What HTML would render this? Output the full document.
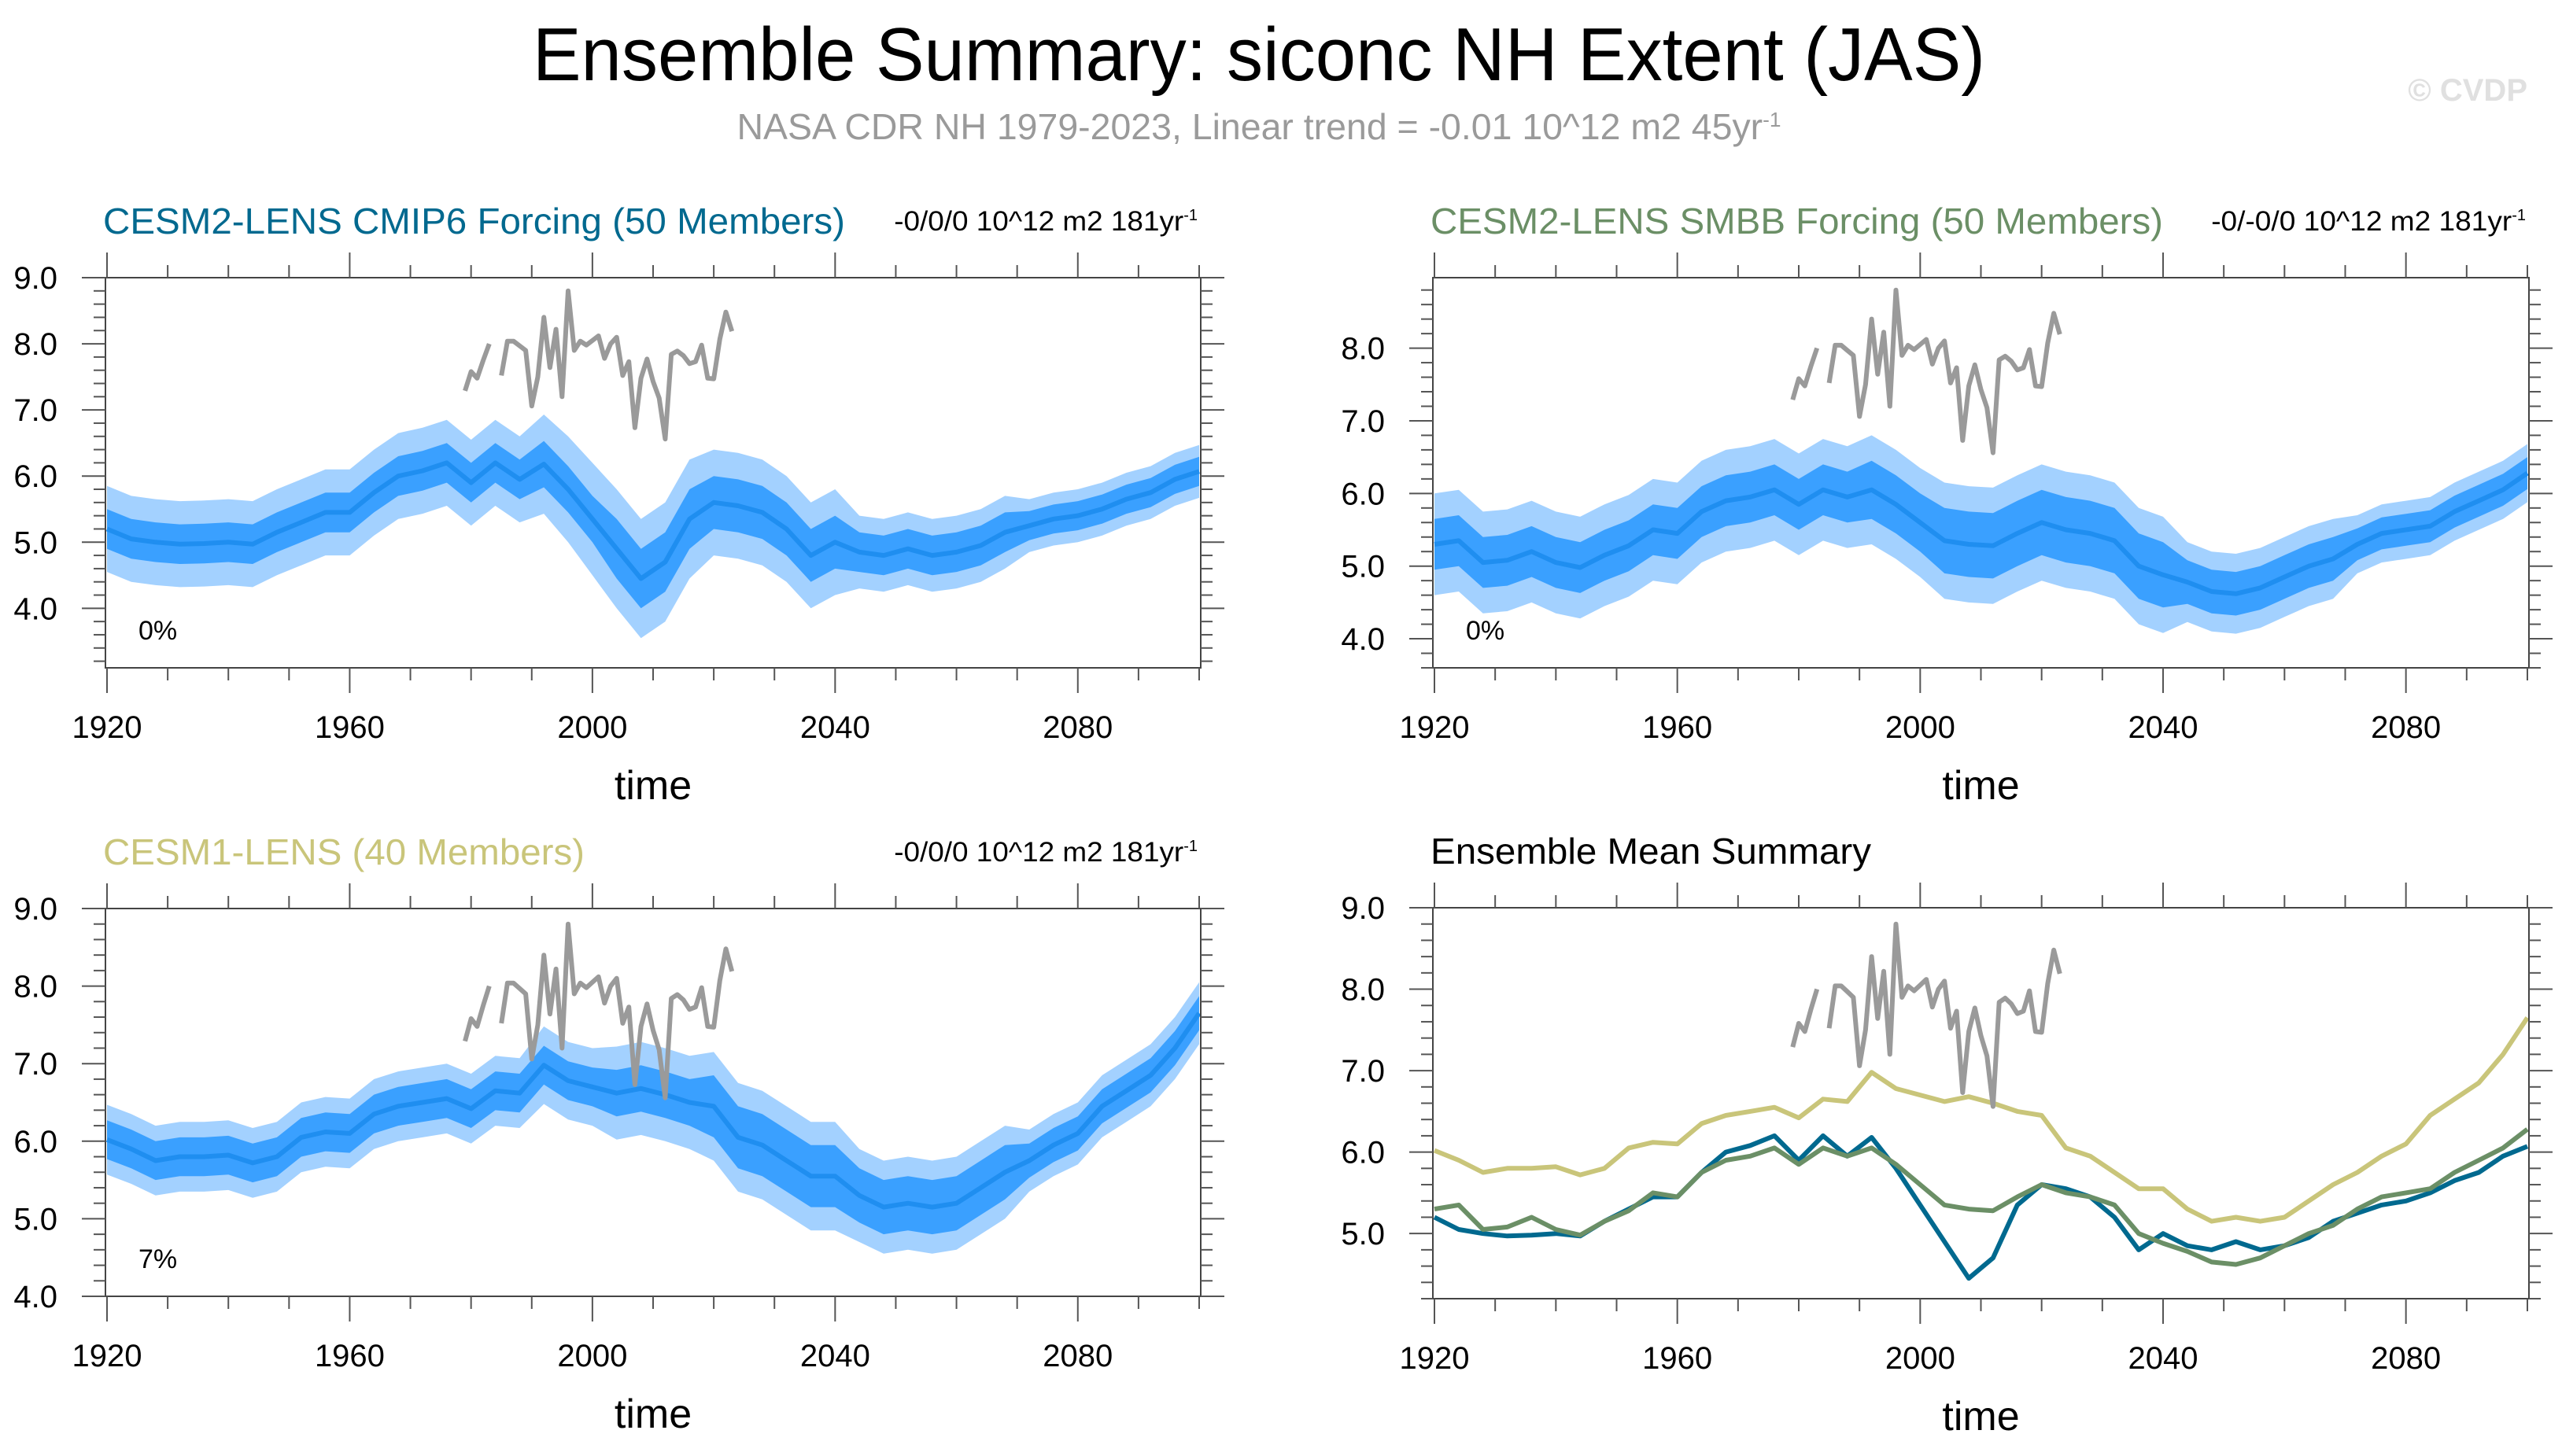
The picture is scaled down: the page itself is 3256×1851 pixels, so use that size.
<!DOCTYPE html>
<html><head><meta charset="utf-8"><style>
html,body{margin:0;padding:0;background:#fff}
svg{display:block}
text{font-family:"Liberation Sans",sans-serif}
</style></head><body>
<svg id="chart" width="3256" height="1851" viewBox="0 0 3256 1851" xmlns="http://www.w3.org/2000/svg">
<text x="1600" y="102" font-size="96" text-anchor="middle" textLength="1846" lengthAdjust="spacingAndGlyphs">Ensemble Summary: siconc NH Extent (JAS)</text>
<text x="1600" y="177" font-size="46" fill="#9a9a9a" text-anchor="middle" textLength="1327" lengthAdjust="spacingAndGlyphs">NASA CDR NH 1979-2023, Linear trend = -0.01 10^12 m2 45yr<tspan dy="-16" font-size="26">-1</tspan></text>
<text x="3212" y="128" font-size="40" font-weight="bold" fill="#e0e0e0" text-anchor="end">© CVDP</text>
<g id="panels"></g>
</svg>
<script>
const years = [1920,1924,1928,1932,1936,1940,1944,1948,1952,1956,1960,1964,1968,1972,1976,1980,1984,1988,1992,1996,2000,2004,2008,2012,2016,2020,2024,2028,2032,2036,2040,2044,2048,2052,2056,2060,2064,2068,2072,2076,2080,2084,2088,2092,2096,2100];
const cmip6Mean = [5.2,5.05,5.0,4.97,4.98,5.0,4.97,5.15,5.3,5.45,5.45,5.75,6.0,6.08,6.2,5.9,6.2,5.95,6.18,5.8,5.35,4.9,4.45,4.7,5.35,5.6,5.55,5.45,5.2,4.8,5.0,4.85,4.8,4.9,4.8,4.85,4.95,5.15,5.25,5.35,5.4,5.5,5.65,5.75,5.95,6.07];
const smbbMean = [5.3,5.35,5.05,5.08,5.2,5.05,4.98,5.15,5.28,5.5,5.45,5.75,5.9,5.95,6.05,5.85,6.05,5.95,6.05,5.85,5.6,5.35,5.3,5.28,5.45,5.6,5.5,5.45,5.35,5.0,4.88,4.78,4.65,4.62,4.7,4.85,5.0,5.1,5.3,5.45,5.5,5.55,5.75,5.9,6.05,6.28];
const cesm1Mean = [6.02,5.9,5.75,5.8,5.8,5.82,5.72,5.8,6.05,6.12,6.1,6.35,6.45,6.5,6.55,6.42,6.65,6.62,6.98,6.78,6.7,6.62,6.68,6.6,6.5,6.45,6.05,5.95,5.75,5.55,5.55,5.3,5.15,5.2,5.15,5.2,5.4,5.6,5.75,5.95,6.1,6.45,6.65,6.85,7.2,7.65];
const cmip6Inner = [0.3,0.3,0.3,0.3,0.3,0.3,0.3,0.3,0.3,0.3,0.3,0.3,0.3,0.3,0.3,0.3,0.3,0.3,0.35,0.35,0.35,0.45,0.45,0.45,0.45,0.4,0.4,0.4,0.4,0.4,0.4,0.3,0.3,0.3,0.3,0.3,0.3,0.3,0.22,0.22,0.22,0.22,0.22,0.22,0.22,0.22];
const cmip6Outer = [0.65,0.65,0.65,0.65,0.65,0.65,0.65,0.65,0.65,0.65,0.65,0.65,0.65,0.65,0.65,0.65,0.65,0.65,0.75,0.8,0.85,0.9,0.9,0.9,0.9,0.8,0.8,0.8,0.8,0.8,0.8,0.55,0.55,0.55,0.55,0.55,0.55,0.55,0.4,0.4,0.4,0.4,0.4,0.4,0.4,0.4];
const smbbInner = [0.35,0.35,0.35,0.35,0.35,0.35,0.35,0.35,0.35,0.35,0.35,0.35,0.35,0.35,0.35,0.35,0.35,0.35,0.4,0.4,0.4,0.45,0.45,0.45,0.45,0.45,0.45,0.45,0.45,0.45,0.45,0.3,0.3,0.3,0.3,0.3,0.3,0.3,0.22,0.22,0.22,0.22,0.22,0.22,0.22,0.22];
const smbbOuter = [0.7,0.7,0.7,0.7,0.7,0.7,0.7,0.7,0.7,0.7,0.7,0.7,0.7,0.7,0.7,0.7,0.7,0.7,0.75,0.75,0.75,0.8,0.8,0.8,0.8,0.8,0.8,0.8,0.8,0.8,0.8,0.55,0.55,0.55,0.55,0.55,0.55,0.55,0.4,0.4,0.4,0.4,0.4,0.4,0.4,0.4];
const cesm1Inner = [0.25,0.25,0.25,0.25,0.25,0.25,0.25,0.25,0.25,0.25,0.25,0.25,0.25,0.25,0.25,0.25,0.25,0.25,0.25,0.25,0.25,0.3,0.3,0.3,0.3,0.4,0.4,0.4,0.4,0.4,0.4,0.35,0.35,0.35,0.35,0.35,0.35,0.35,0.22,0.22,0.22,0.22,0.22,0.22,0.22,0.22];
const cesm1Outer = [0.45,0.45,0.45,0.45,0.45,0.45,0.45,0.45,0.45,0.45,0.45,0.45,0.45,0.45,0.45,0.45,0.45,0.45,0.5,0.5,0.5,0.6,0.6,0.6,0.6,0.7,0.7,0.7,0.7,0.7,0.7,0.6,0.6,0.6,0.6,0.6,0.6,0.6,0.4,0.4,0.4,0.4,0.4,0.4,0.4,0.4];
const obsYears = [1979,1980,1981,1982,1983,1984,1985,1986,1987,1988,1989,1990,1991,1992,1993,1994,1995,1996,1997,1998,1999,2000,2001,2002,2003,2004,2005,2006,2007,2008,2009,2010,2011,2012,2013,2014,2015,2016,2017,2018,2019,2020,2021,2022,2023];
const obsValues = [7.29,7.58,7.48,7.75,8.0,null,7.52,8.04,8.04,7.97,7.9,7.06,7.5,8.4,7.64,8.22,7.2,8.8,7.9,8.04,7.98,8.05,8.12,7.78,8.0,8.1,7.52,7.73,6.73,7.48,7.77,7.43,7.18,6.56,7.84,7.89,7.82,7.7,7.73,7.98,7.48,7.47,8.07,8.48,8.19];
const xTickLabels = ["1920","1960","2000","2040","2080"];
const xTickValues = [1920,1960,2000,2040,2080];

const NS = "http://www.w3.org/2000/svg";
const root = document.getElementById("panels");
function mk(tag, attrs, parent){const e=document.createElementNS(NS,tag);for(const k in attrs)e.setAttribute(k,attrs[k]);(parent||root).appendChild(e);return e;}

const panels = [
 {name:"cmip6", x0:134,x1:1526,y0:353,y1:849,ymin:3.1,ymax:9.0,ticks:[4,5,6,7,8,9],title:"CESM2-LENS CMIP6 Forcing (50 Members)",tcol:"#00698f",tlen:943,rt:"-0/0/0 10^12 m2 181yr",rtlen:368,pct:"0%",mean:cmip6Mean,inner:cmip6Inner,outer:cmip6Outer},
 {name:"smbb", x0:1821,x1:3214,y0:353,y1:849,ymin:3.6,ymax:8.97,ticks:[4,5,6,7,8],title:"CESM2-LENS SMBB Forcing (50 Members)",tcol:"#6b8f66",tlen:931,rt:"-0/-0/0 10^12 m2 181yr",rtlen:382,pct:"0%",mean:smbbMean,inner:smbbInner,outer:smbbOuter},
 {name:"cesm1", x0:134,x1:1526,y0:1155,y1:1648,ymin:4.0,ymax:9.0,ticks:[4,5,6,7,8,9],title:"CESM1-LENS (40 Members)",tcol:"#c9c57a",tlen:612,rt:"-0/0/0 10^12 m2 181yr",rtlen:368,pct:"7%",mean:cesm1Mean,inner:cesm1Inner,outer:cesm1Outer},
 {name:"mean-summary", x0:1821,x1:3214,y0:1154,y1:1651,ymin:4.2,ymax:9.0,ticks:[5,6,7,8,9],title:"Ensemble Mean Summary",tcol:"#000",tlen:560,rt:null,pct:null}
];

panels.forEach(p=>{
  const g = mk("g",{});
  
  
  const xs = y => (p.x0+2) + (y-1920)/180*(p.x1-p.x0-4);
  const ys = v => p.y1 - (v-p.ymin)/(p.ymax-p.ymin)*(p.y1-p.y0);
  const t = mk("text",{x:p.x0-3,y:p.y0-56,"font-size":46,fill:p.tcol,textLength:p.tlen,lengthAdjust:"spacingAndGlyphs"},g);
  t.textContent = p.title;
  
  
  if(p.rt){
    const r = mk("text",{x:p.x1-4,y:p.y0-60,"font-size":35,"text-anchor":"end"},g);
    const s1 = mk("tspan",{textLength:p.rtlen,lengthAdjust:"spacingAndGlyphs"},r); s1.textContent = p.rt;
    const sp = mk("tspan",{dy:-13,"font-size":20},r); sp.textContent="-1";
    
    
  }
  const clipId = "clip-"+p.name;
  const cp = mk("clipPath",{id:clipId},g);
  mk("rect",{x:p.x0,y:p.y0,width:p.x1-p.x0,height:p.y1-p.y0},cp);
  const plot = mk("g",{"clip-path":"url(#"+clipId+")"},g);
  function band(w, col, nm){
    let pts=[];
    years.forEach((y,i)=>pts.push(xs(y).toFixed(1)+","+ys(p.mean[i]+w[i]).toFixed(1)));
    for(let i=years.length-1;i>=0;i--) pts.push(xs(years[i]).toFixed(1)+","+ys(p.mean[i]-w[i]).toFixed(1));
    const e = mk("polygon",{points:pts.join(" "),fill:col},plot);
    
    
  }
  function line(xv, vals, col, w, nm){
    let d="", pen=false;
    vals.forEach((v,i)=>{ if(v===null){pen=false;return;} d+=(pen?"L":"M")+xs(xv[i]).toFixed(1)+","+ys(v).toFixed(1); pen=true;});
    const e = mk("path",{d:d,fill:"none",stroke:col,"stroke-width":w,"stroke-linejoin":"round"},plot);
    
    
  }
  if(p.mean){
    band(p.outer,"#a3d1ff","outer-spread-band");
    band(p.inner,"#3aa0ff","inner-spread-band");
    line(years,p.mean,"#1f8ef0",6,"ensemble-mean-line");
  } else {
    line(years,cesm1Mean,"#c9c57a",6,"cesm1-mean-line");
    line(years,cmip6Mean,"#00698f",6,"cmip6-mean-line");
    line(years,smbbMean,"#6b8f66",6,"smbb-mean-line");
  }
  line(obsYears,obsValues,"#9a9a9a",6,"observed-line");
  if(p.pct){
    const e = mk("text",{x:p.x0+42,y:p.y1-36,"font-size":34},g); e.textContent=p.pct;
    
    
  }
  const fr = mk("rect",{x:p.x0,y:p.y0,width:p.x1-p.x0,height:p.y1-p.y0,fill:"none",stroke:"#444","stroke-width":2},g);
  
  
  for(let yr=1920; yr<=2100; yr+=10){
    const x = xs(yr); const major = (yr-1920)%40===0; const L = major?32:16;
    mk("line",{x1:x,x2:x,y1:p.y0,y2:p.y0-L,stroke:"#555","stroke-width":2},g);
    mk("line",{x1:x,x2:x,y1:p.y1,y2:p.y1+L,stroke:"#555","stroke-width":2},g);
  }
  xTickValues.forEach((v,i)=>{
    const e = mk("text",{x:xs(v),y:p.y1+89,"font-size":40,"text-anchor":"middle"},g); e.textContent=xTickLabels[i];
    
    
  });
  const xt = mk("text",{x:(p.x0+p.x1)/2,y:p.y1+167,"font-size":52,"text-anchor":"middle"},g); xt.textContent="time";
  
  
  for(let k=Math.ceil(p.ymin*5); k<=Math.floor(p.ymax*5+0.01); k++){
    const v=k/5, y=ys(v), major = k%5===0, L = major?30:15;
    mk("line",{x1:p.x0,x2:p.x0-L,y1:y,y2:y,stroke:"#555","stroke-width":2},g);
    mk("line",{x1:p.x1,x2:p.x1+L,y1:y,y2:y,stroke:"#555","stroke-width":2},g);
  }
  p.ticks.forEach(v=>{
    const e = mk("text",{x:p.x0-61,y:ys(v)+14,"font-size":40,"text-anchor":"end"},g); e.textContent=v.toFixed(1);
    
    
  });
});
</script>
</body></html>
